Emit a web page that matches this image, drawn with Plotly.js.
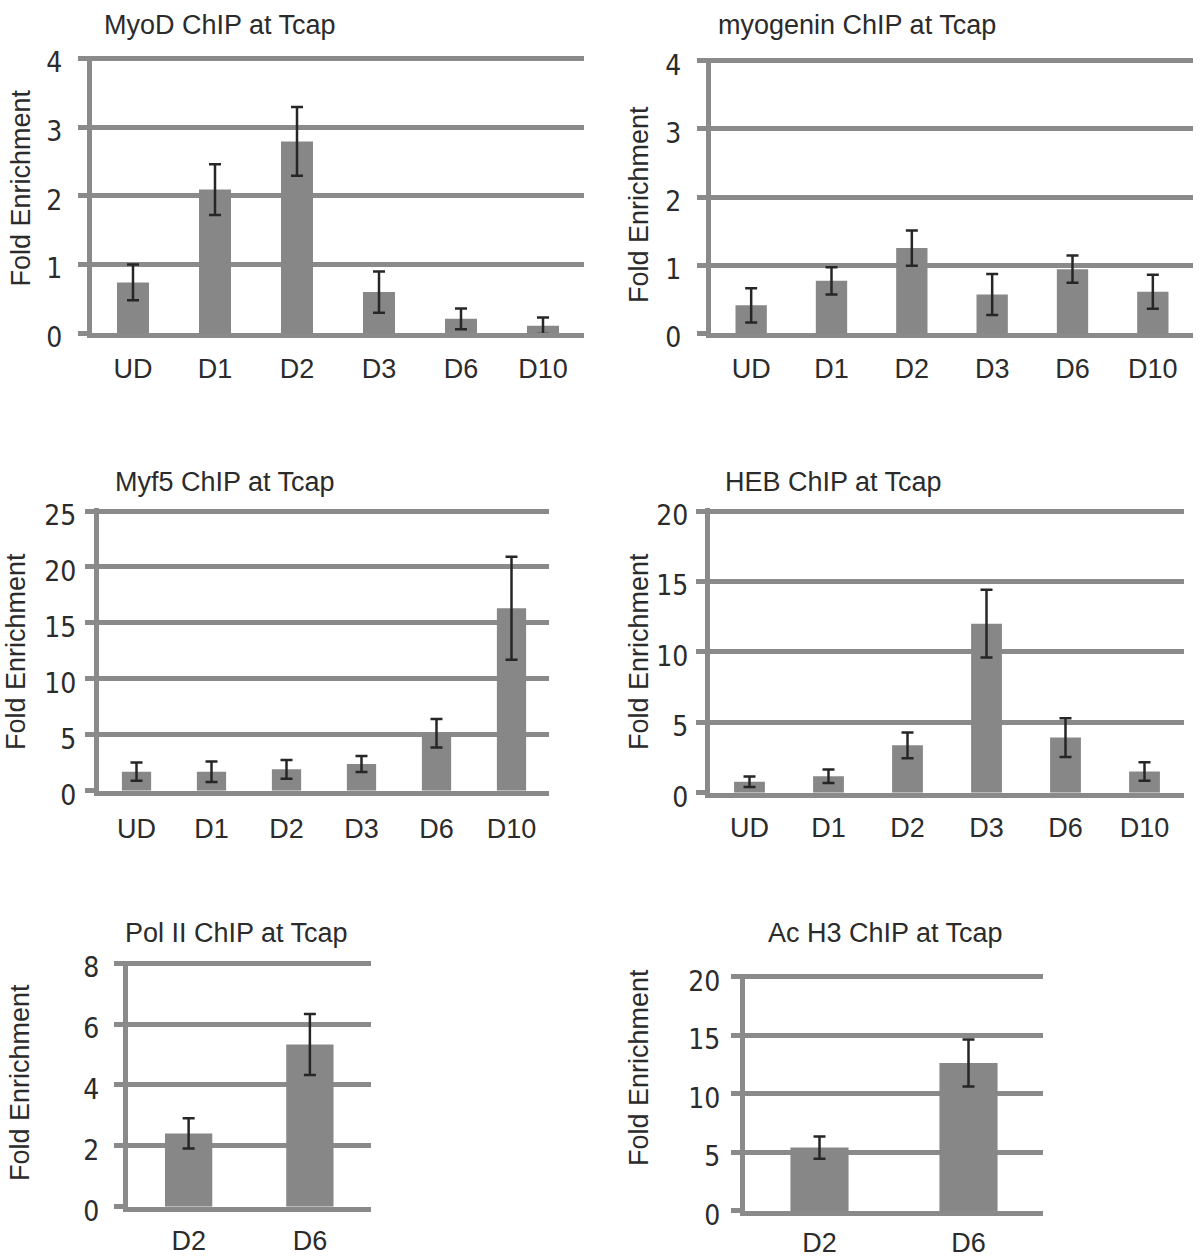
<!DOCTYPE html>
<html>
<head>
<meta charset="utf-8">
<script src="https://cdn.plot.ly/plotly-3.0.1.min.js"></script>
<style>html,body{margin:0;padding:0;background:#fff;}#chart{width:1200px;height:1260px;}</style>
</head>
<body>
<div id="chart"></div>
<script>
// ---- data ----
const categories6 = ['UD', 'D1', 'D2', 'D3', 'D6', 'D10'];
const categories2 = ['D2', 'D6'];

const myodMean = [0.74, 2.09, 2.79, 0.60, 0.21, 0.11];
const myodErr  = [0.26, 0.37, 0.50, 0.30, 0.15, 0.12];

const myogeninMean = [0.41, 0.77, 1.25, 0.57, 0.94, 0.61];
const myogeninErr  = [0.25, 0.20, 0.26, 0.30, 0.20, 0.25];

const myf5Mean = [1.70, 1.70, 1.91, 2.38, 5.13, 16.3];
const myf5Err  = [0.82, 0.92, 0.84, 0.72, 1.28, 4.6];

const hebMean = [0.78, 1.16, 3.36, 12.0, 3.91, 1.51];
const hebErr  = [0.37, 0.48, 0.92, 2.4, 1.38, 0.66];

const pol2Mean = [2.41, 5.33];
const pol2Err  = [0.50, 1.00];

const acH3Mean = [5.41, 12.63];
const acH3Err  = [0.94, 2.00];

const panelTitles = ['MyoD ChIP at Tcap', 'myogenin ChIP at Tcap', 'Myf5 ChIP at Tcap',
                     'HEB ChIP at Tcap', 'Pol II ChIP at Tcap', 'Ac H3 ChIP at Tcap'];
const yTitle = 'Fold Enrichment';

// ---- styling ----
const W = 1200, H = 1260;
const BAR = '#878787', GRID = '#8a8a8a', ERR = '#262626', TXT = '#2b2b2b';
const FONT = 'Liberation Sans, Arial, sans-serif';
const NARROW = 'Liberation Sans Narrow, DejaVu Sans Condensed, sans-serif';
const EXT = 0.01; // small headroom so the top grid line is drawn

// pixel boxes: [left, right, top, bottom]
const boxes = [
  [92, 584, 58.3, 333.3],
  [711, 1193, 60.7, 333.3],
  [99, 549, 511, 790.7],
  [710, 1184, 511, 792.7],
  [128, 370.5, 963.3, 1206.7],
  [745, 1043, 976.7, 1211]
];
const ranges = [[0, 4], [0, 4], [0, 25], [0, 20], [0, 8], [0, 20]];
const dticks = [1, 1, 5, 5, 2, 5];
const titlePos = [[220, 25], [857, 25], [225, 481.7], [833, 481.7], [236, 933], [885.6, 933]];
const yTitlePos = [[20, 188.5], [639, 205], [16, 652], [639, 652], [20, 1083], [639, 1068]];
const yLabelStand = [10, 10, 3, 2, 9, 5];
const xLabelStand = [7, 7, 10, 7, 6, 4];

const series = [
  [categories6, myodMean, myodErr],
  [categories6, myogeninMean, myogeninErr],
  [categories6, myf5Mean, myf5Err],
  [categories6, hebMean, hebErr],
  [categories2, pol2Mean, pol2Err],
  [categories2, acH3Mean, acH3Err]
];

const data = [];
const layout = {
  width: W, height: H,
  margin: {l: 0, r: 0, t: 0, b: 0},
  paper_bgcolor: '#fff', plot_bgcolor: '#fff',
  showlegend: false,
  font: {family: FONT, color: TXT},
  annotations: []
};

series.forEach((s, i) => {
  const n = i === 0 ? '' : String(i + 1);
  data.push({
    type: 'bar',
    x: s[0], y: s[1],
    xaxis: 'x' + n, yaxis: 'y' + n,
    width: 0.39,
    marker: {color: BAR, line: {width: 0}},
    error_y: {type: 'data', array: s[2], visible: true, color: ERR, thickness: 2.5, width: 6},
    hoverinfo: 'skip'
  });
  const b = boxes[i];
  const r = ranges[i];
  const hp = b[3] - b[2];
  const topPx = b[3] - hp * (1 + EXT);
  layout['xaxis' + n] = {
    domain: [b[0] / W, b[1] / W],
    anchor: 'y' + n,
    type: 'category',
    showgrid: false, zeroline: false,
    showline: true, linecolor: GRID, linewidth: 5,
    ticks: '',
    ticklabelstandoff: xLabelStand[i],
    tickfont: {family: FONT, size: 27, color: TXT},
    fixedrange: true
  };
  layout['yaxis' + n] = {
    domain: [1 - b[3] / H, 1 - topPx / H],
    anchor: 'x' + n,
    range: [r[0], r[1] * (1 + EXT)],
    dtick: dticks[i], tick0: 0,
    showgrid: true, gridcolor: GRID, gridwidth: 5,
    zeroline: false,
    showline: true, linecolor: GRID, linewidth: 5,
    ticks: 'outside', ticklen: 9, tickwidth: 5, tickcolor: GRID,
    ticklabelstandoff: yLabelStand[i],
    ticklabelshift: 4,
    tickfont: {family: NARROW, size: 28, color: TXT},
    fixedrange: true
  };
  layout.annotations.push({
    text: panelTitles[i],
    xref: 'paper', yref: 'paper',
    x: titlePos[i][0] / W, y: 1 - titlePos[i][1] / H,
    xanchor: 'center', yanchor: 'middle',
    showarrow: false,
    font: {family: FONT, size: 27, color: TXT}
  });
  layout.annotations.push({
    text: yTitle,
    textangle: -90,
    xref: 'paper', yref: 'paper',
    x: yTitlePos[i][0] / W, y: 1 - yTitlePos[i][1] / H,
    xanchor: 'center', yanchor: 'middle',
    showarrow: false,
    font: {family: FONT, size: 27, color: TXT}
  });
});

Plotly.newPlot('chart', data, layout, {staticPlot: true, displayModeBar: false});
</script>
</body>
</html>
